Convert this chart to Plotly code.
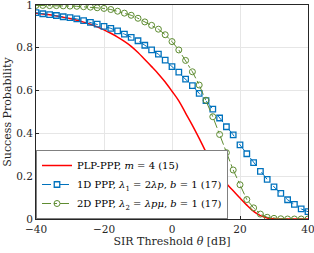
import plotly.graph_objects as go

theta = list(range(-40, 42, 2))

plp_ppp = [0.962, 0.958, 0.954, 0.949, 0.943, 0.937, 0.929, 0.920, 0.910, 0.898,
           0.884, 0.868, 0.850, 0.830, 0.807, 0.778, 0.745, 0.712, 0.678, 0.640,
           0.597, 0.552, 0.495, 0.438, 0.377, 0.313, 0.257, 0.207, 0.166, 0.132,
           0.098, 0.065, 0.036, 0.016, 0.005, 0.001, 0.0, 0.0, 0.0, 0.0, 0.0]

ppp_1d = [0.964, 0.959, 0.955, 0.951, 0.945, 0.941, 0.935, 0.927, 0.919, 0.911,
          0.900, 0.891, 0.879, 0.864, 0.849, 0.833, 0.812, 0.790, 0.770, 0.742,
          0.712, 0.686, 0.654, 0.623, 0.587, 0.553, 0.513, 0.472, 0.431, 0.393,
          0.346, 0.305, 0.263, 0.223, 0.185, 0.150, 0.120, 0.090, 0.068, 0.047, 0.034]

ppp_2d = [0.998, 0.998, 0.997, 0.997, 0.996, 0.995, 0.994, 0.992, 0.990, 0.987,
          0.984, 0.979, 0.971, 0.962, 0.952, 0.938, 0.921, 0.905, 0.887, 0.861,
          0.829, 0.790, 0.741, 0.688, 0.626, 0.555, 0.478, 0.395, 0.310, 0.229,
          0.160, 0.091, 0.052, 0.023, 0.008, 0.003, 0.001, 0.0, 0.0, 0.0, 0.0]

names = ["PLP-PPP, <i>m</i> = 4 (15)",
         "1D PPP, <i>λ</i><sub>1</sub> = 2<i>λp</i>, <i>b</i> = 1 (17)",
         "2D PPP, <i>λ</i><sub>2</sub> = <i>λpμ</i>, <i>b</i> = 1 (17)"]

FONT = "DejaVu Serif, serif"

fig = go.Figure()
fig.add_trace(go.Scatter(x=theta, y=plp_ppp, name=names[0], mode="lines",
                         line=dict(color="#FF0000", width=1.5, shape="spline")))
fig.add_trace(go.Scatter(x=theta, y=ppp_1d, name=names[1], mode="lines+markers",
                         line=dict(color="#0072BD", width=1, dash="dash"),
                         marker=dict(symbol="square-open", size=5.5, color="#0072BD",
                                     line=dict(width=1.3))))
fig.add_trace(go.Scatter(x=theta, y=ppp_2d, name=names[2], mode="lines+markers",
                         line=dict(color="#5E8C31", width=1, dash="dashdot"),
                         marker=dict(symbol="circle-open", size=6, color="#5E8C31",
                                     line=dict(width=1))))

fig.update_layout(
    width=314, height=253,
    margin=dict(l=36, r=6, t=5, b=34, autoexpand=False),
    paper_bgcolor="white", plot_bgcolor="white",
    font=dict(family=FONT, size=10.5, color="#262626"),
    showlegend=True,
    legend=dict(x=0, y=0, xanchor="left", yanchor="bottom",
                bgcolor="white", bordercolor="#808080", borderwidth=1,
                font=dict(family=FONT, size=10, color="black"),
                tracegroupgap=0, itemwidth=30),
)
fig.update_xaxes(range=[-40, 40], tickvals=[-40, -20, 0, 20, 40],
                 automargin=False, ticklabeloverflow="allow",
                 tickfont=dict(family=FONT, size=10.5),
                 showgrid=True, gridcolor="#E6E6E6", zeroline=False,
                 showline=True, linecolor="#262626", linewidth=1, mirror=True,
                 ticks="inside", ticklen=3, tickcolor="#262626",
                 title=dict(text="SIR Threshold <i>θ</i> [dB]", standoff=2,
                            font=dict(family=FONT, size=11)))
fig.update_yaxes(range=[0, 1], tickvals=[0, 0.2, 0.4, 0.6, 0.8, 1],
                 ticktext=["0", "0.2", "0.4", "0.6", "0.8", "1"],
                 automargin=False, ticklabeloverflow="allow",
                 tickfont=dict(family=FONT, size=10.5),
                 showgrid=True, gridcolor="#E6E6E6", zeroline=False,
                 showline=True, linecolor="#262626", linewidth=1, mirror=True,
                 ticks="inside", ticklen=3, tickcolor="#262626",
                 title=dict(text="Success Probability", standoff=2,
                            font=dict(family=FONT, size=11)))

fig.write_html("out.html", config={"displayModeBar": False},
               post_script="document.body.style.margin='0';")
